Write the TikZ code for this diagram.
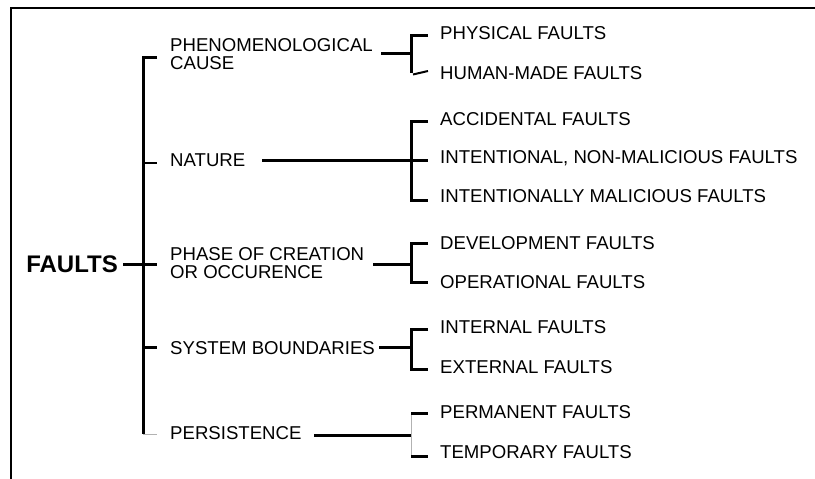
\documentclass[tikz,border=0pt]{standalone}
\usepackage{fontspec}
\setmainfont{Liberation Sans}
\begin{document}
\begin{tikzpicture}[x=1pt,y=-1pt,
  lbl/.style={anchor=west,inner sep=0pt,font=\fontsize{18.6}{18.5}\selectfont,align=left},
  root/.style={anchor=east,inner sep=0pt,font=\fontsize{24}{26}\selectfont\bfseries},
  heavy/.style={line width=3pt},
  light/.style={line width=1.5pt},
  faint/.style={line width=0.9pt,black!30},
  frame/.style={line width=2.5pt}]
\useasboundingbox (0,0) rectangle (815,479);

% open frame: top and left edges
\draw[frame] (815,8) -- (11,8) -- (11,482);

% root and first-level labels
\node[root] (faults) at (118,264) {FAULTS};
\node[lbl] (phen)  at (170,54)  {PHENOMENOLOGICAL\\CAUSE};
\node[lbl] (nat)   at (170,160) {NATURE};
\node[lbl] (phase) at (170,263) {PHASE OF CREATION\\OR OCCURENCE};
\node[lbl] (sysb)  at (170,348) {SYSTEM BOUNDARIES};
\node[lbl] (pers)  at (170,433) {PERSISTENCE};

% second-level labels
\node[lbl] (phys)  at (440,33)  {PHYSICAL FAULTS};
\node[lbl] (human) at (440,73)  {HUMAN-MADE FAULTS};
\node[lbl] (acc)   at (440,119) {ACCIDENTAL FAULTS};
\node[lbl] (inm)   at (440,158) {INTENTIONAL, NON-MALICIOUS FAULTS};
\node[lbl] (imal)  at (440,196) {INTENTIONALLY MALICIOUS FAULTS};
\node[lbl] (dev)   at (440,243) {DEVELOPMENT FAULTS};
\node[lbl] (oper)  at (440,282) {OPERATIONAL FAULTS};
\node[lbl] (intl)  at (440,327) {INTERNAL FAULTS};
\node[lbl] (extl)  at (440,367) {EXTERNAL FAULTS};
\node[lbl] (perm)  at (440,412) {PERMANENT FAULTS};
\node[lbl] (temp)  at (440,452) {TEMPORARY FAULTS};

% spine of the first-level bracket
\coordinate (t1) at (157,57);
\coordinate (t2) at (157,163);
\coordinate (t3) at (157,264);
\coordinate (t4) at (157,347);
\coordinate (t5) at (157,434);
\coordinate (sp) at (143,0);
\draw[heavy] (t1) -- (t1 -| sp) -- (t5 -| sp);
\draw[light] (t2 -| sp) -- (t2);
\draw[heavy] ([xshift=5pt]faults.east) -- (t3);
\draw[heavy] (t4 -| sp) -- (t4);
\draw[faint] (t5 -| sp) -- (t5);

% phenomenological cause
\coordinate (j1) at (411,53);
\draw[heavy] (381,53) -- (j1);
\draw[heavy] (428,35) -- (411,35) -- (411,73);
\draw[line width=2pt] (413,74.5) -- (428,71);

% nature
\coordinate (j2) at (411,160);
\draw[heavy] (262,160) -- (j2) -- (428,160);
\draw[heavy] (428,121) -- (411,121) -- (411,200) -- (428,200);

% phase of creation or occurrence
\coordinate (j3) at (411,264);
\draw[heavy] (373,264) -- (j3);
\draw[heavy] (428,243) -- (411,243) -- (411,282) -- (428,282);

% system boundaries
\coordinate (j4) at (411,347);
\draw[heavy] (379,347) -- (j4);
\draw[heavy] (428,329) -- (411,329) -- (411,369) -- (428,369);

% persistence
\coordinate (j5) at (411,435);
\draw[heavy] (314,435) -- (j5);
\draw[faint] (411,413) -- (411,456);
\draw[heavy] (411,413) -- (428,413);
\draw[heavy] (411,456) -- (428,456);
\end{tikzpicture}
\end{document}
